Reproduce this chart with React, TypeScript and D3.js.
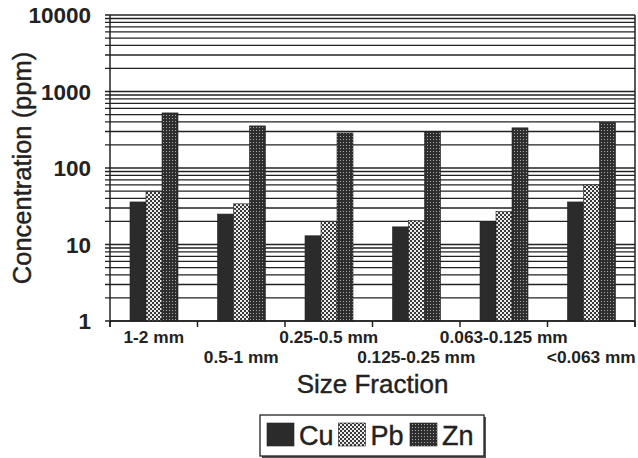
import React from "react";
import * as d3 from "d3";

const categories = [
  "1-2 mm",
  "0.5-1 mm",
  "0.25-0.5 mm",
  "0.125-0.25 mm",
  "0.063-0.125 mm",
  "<0.063 mm",
];
const series = ["Cu", "Pb", "Zn"];
const cuValues = [36, 25, 13, 17, 20, 36];
const pbValues = [49, 34, 20, 20.5, 27, 60];
const znValues = [525, 355, 287, 298, 335, 395];
const yTickLabels = [1, 10, 100, 1000, 10000];

const W = 638;
const H = 458;
const margin = { top: 15, right: 3, bottom: 137, left: 110 };
const font = "Arial, 'Liberation Sans', sans-serif";

const fills: Record<string, string> = {
  Cu: "#2b2b2b",
  Pb: "url(#pbPat)",
  Zn: "url(#znPat)",
};

export default function App() {
  const x0 = margin.left;
  const x1 = W - margin.right;
  const yTop = margin.top;
  const yBot = H - margin.bottom;

  const x = d3.scaleBand<string>().domain(categories).range([x0, x1]).padding(0);
  const xSub = d3
    .scaleBand<string>()
    .domain(series)
    .range([20, 68])
    .padding(0);
  const y = d3.scaleLog().domain([1, 10000]).range([yBot, yTop]);

  const grid = y.ticks();
  const table = series.map((s, i) => ({
    name: s,
    values: [cuValues, pbValues, znValues][i],
  }));

  const boundaries = categories.map((c) => x(c)!).concat([x1]);

  return (
    <svg
      width={W}
      height={H}
      style={{ position: "absolute", left: 0, top: 0, background: "#fff" }}
      fontFamily={font}
    >
      <defs>
        <pattern id="pbPat" width="4" height="4" patternUnits="userSpaceOnUse">
          <rect width="4" height="4" fill="#3a3a3a" />
          <rect x="0" y="0" width="2" height="2" fill="#ececec" />
          <rect x="2" y="2" width="2" height="2" fill="#ececec" />
        </pattern>
        <pattern id="znPat" width="3" height="3" patternUnits="userSpaceOnUse">
          <rect width="3" height="3" fill="#2e2e2e" />
          <rect x="1" y="1" width="1" height="1" fill="#a8a8a8" />
        </pattern>
      </defs>

      {/* gridlines */}
      {grid.map((t) => (
        <line
          key={t}
          x1={x0 - 5}
          x2={x1}
          y1={y(t)}
          y2={y(t)}
          stroke="#222"
          strokeWidth={1.3}
        />
      ))}

      {/* bars */}
      {table.map((s) =>
        s.values.map((v, i) => (
          <rect
            key={s.name + i}
            x={x(categories[i])! + xSub(s.name)!}
            y={y(v)}
            width={xSub.bandwidth()}
            height={yBot - y(v)}
            fill={fills[s.name]}
            stroke="#222"
            strokeWidth={0.6}
          />
        ))
      )}

      {/* axes frame */}
      <line x1={x0} x2={x0} y1={yTop} y2={yBot + 6} stroke="#222" strokeWidth={1.5} />
      <line x1={x1} x2={x1} y1={yTop} y2={yBot + 6} stroke="#222" strokeWidth={1.5} />
      <line x1={x0} x2={x1} y1={yBot} y2={yBot} stroke="#222" strokeWidth={1.5} />
      {boundaries.map((b, i) => (
        <line key={i} x1={b} x2={b} y1={yBot} y2={yBot + 6} stroke="#222" strokeWidth={1.5} />
      ))}

      {/* y tick labels */}
      {yTickLabels.map((t) => (
        <text
          key={t}
          x={x0 - 19}
          y={y(t)}
          dy="0.36em"
          textAnchor="end"
          fontSize={22.5}
          fontWeight="bold"
          fill="#222"
        >
          {t}
        </text>
      ))}

      {/* x tick labels */}
      {categories.map((c, i) => (
        <text
          key={c}
          x={x(c)! + x.bandwidth() / 2}
          y={yBot + (i % 2 === 0 ? 22 : 42)}
          textAnchor="middle"
          fontSize={17.3}
          fontWeight="bold"
          fill="#222"
        >
          {c}
        </text>
      ))}

      {/* axis titles */}
      <text
        x={(x0 + x1) / 2}
        y={393}
        textAnchor="middle"
        fontSize={26}
        fill="#222"
        stroke="#222"
        strokeWidth={0.4}
      >
        Size Fraction
      </text>
      <text
        transform={`translate(31,${(yTop + yBot) / 2}) rotate(-90)`}
        textAnchor="middle"
        fontSize={25.5}
        fill="#222"
        stroke="#222"
        strokeWidth={0.4}
      >
        Concentration (ppm)
      </text>

      {/* legend */}
      <g>
        <rect x={262} y={417} width={224} height={41} fill="#555" />
        <rect x={260} y={415} width={224} height={41} fill="#fff" stroke="#222" strokeWidth={1.3} />
        {series.map((s, i) => {
          const lx = 267 + i * 71.5;
          return (
            <g key={s}>
              <rect x={lx} y={423} width={27} height={23} fill={fills[s]} stroke="#222" strokeWidth={0.6} />
              <text x={lx + 32} y={445} fontSize={27} fill="#222" stroke="#222" strokeWidth={0.4}>
                {s}
              </text>
            </g>
          );
        })}
      </g>
    </svg>
  );
}
